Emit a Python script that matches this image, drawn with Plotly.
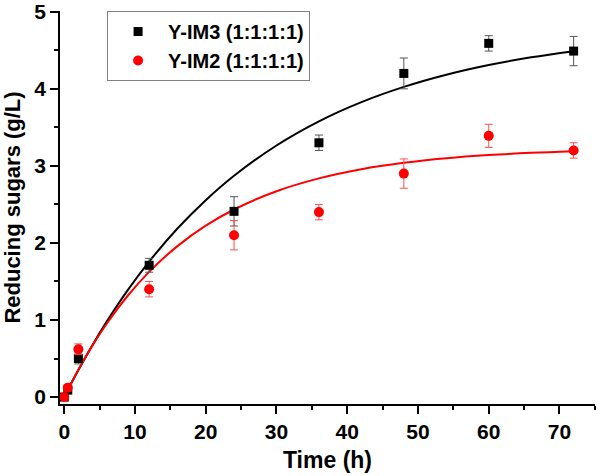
import plotly.graph_objects as go

# measured data
time_pts = [0, 0.5, 2, 12, 24, 36, 48, 60, 72]
im3_vals = [0.0, 0.09, 0.50, 1.71, 2.41, 3.30, 4.20, 4.59, 4.49]
im3_err = [0.02, 0.04, 0.07, 0.09, 0.19, 0.10, 0.20, 0.10, 0.19]
im2_vals = [0.0, 0.12, 0.62, 1.40, 2.10, 2.40, 2.90, 3.39, 3.20]
im2_err = [0.02, 0.04, 0.07, 0.10, 0.19, 0.10, 0.19, 0.15, 0.10]

# fitted curves
fit_t = [0, 1, 2, 4, 6, 9, 12, 16, 20, 24, 30, 36, 42, 48, 54, 60, 66, 72]
im3_fit = [0.0, 0.179, 0.351, 0.677, 0.979, 1.391, 1.758, 2.187, 2.555, 2.872,
           3.265, 3.578, 3.827, 4.025, 4.183, 4.309, 4.409, 4.489]
im2_fit = [0.0, 0.183, 0.355, 0.671, 0.952, 1.318, 1.625, 1.959, 2.224, 2.434,
           2.671, 2.838, 2.957, 3.040, 3.099, 3.140, 3.169, 3.190]

x_ticks = [0, 10, 20, 30, 40, 50, 60, 70]
y_ticks = [0, 1, 2, 3, 4, 5]

FONT = "Liberation Sans, Arial, sans-serif"

fig = go.Figure()
fig.add_trace(go.Scatter(x=fit_t, y=im3_fit, mode="lines", line=dict(color="black", width=2, shape="spline"),
                         showlegend=False, hoverinfo="skip"))
fig.add_trace(go.Scatter(x=fit_t, y=im2_fit, mode="lines", line=dict(color="#ff0000", width=2, shape="spline"),
                         showlegend=False, hoverinfo="skip"))
fig.add_trace(go.Scatter(x=time_pts, y=im3_vals, mode="markers", name="Y-IM3 (1:1:1:1)",
                         marker=dict(symbol="square", size=9, color="black"),
                         error_y=dict(type="data", array=im3_err, visible=True, color="#555555", thickness=1, width=4)))
fig.add_trace(go.Scatter(x=time_pts, y=im2_vals, mode="markers", name="Y-IM2 (1:1:1:1)",
                         marker=dict(symbol="circle", size=10, color="#ff0000"),
                         error_y=dict(type="data", array=im2_err, visible=True, color="#ff5050", thickness=1, width=4)))

axis_common = dict(showline=True, linecolor="black", linewidth=1.5, ticks="outside", ticklen=8,
                   tickwidth=1.5, tickcolor="black", showgrid=False, zeroline=False, mirror=False,
                   automargin=False,
                   tickfont=dict(family=FONT, size=21, color="black", weight="bold"))

fig.update_xaxes(range=[-0.6, 75.02], tickvals=x_ticks,
                 minor=dict(ticks="outside", ticklen=4, tickwidth=1.5, tickcolor="black", dtick=5, tick0=0),
                 title=dict(text="Time (h)", font=dict(family=FONT, size=23, color="black", weight="bold"), standoff=10),
                 **axis_common)
fig.update_yaxes(range=[-0.09, 5.01], tickvals=y_ticks,
                 minor=dict(ticks="outside", ticklen=4, tickwidth=1.5, tickcolor="black", dtick=0.5, tick0=0),
                 title=dict(text="Reducing sugars (g/L)", font=dict(family=FONT, size=22, color="black", weight="bold"), standoff=10),
                 **axis_common)

fig.update_layout(
    width=598, height=476,
    margin=dict(l=60, r=3, t=11, b=72),
    plot_bgcolor="white", paper_bgcolor="white",
    legend=dict(x=0.088, y=1.0, xanchor="left", yanchor="top",
                bordercolor="#808080", borderwidth=1, bgcolor="white",
                font=dict(family=FONT, size=20, color="black", weight="bold"),
                itemwidth=50, tracegroupgap=0),
)

fig.write_html("out.html", config={"displayModeBar": False},
               post_script="document.body.style.margin='0';document.body.style.overflow='hidden';")
